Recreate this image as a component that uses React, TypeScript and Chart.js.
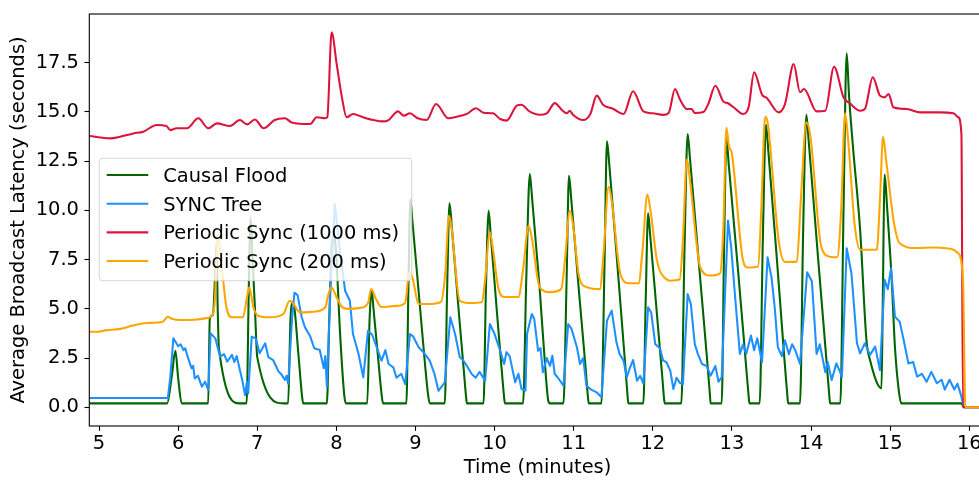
import React, { useEffect, useRef } from "react";
import { Chart, registerables } from "chart.js";
Chart.register(...registerables);

const seriesNames = ["Causal Flood", "SYNC Tree", "Periodic Sync (1000 ms)", "Periodic Sync (200 ms)"];
const seriesColors = ["#006400", "#1E90FF", "#DC143C", "#FFA500"];
const xTickValues = [5, 6, 7, 8, 9, 10, 11, 12, 13, 14, 15, 16];
const yTickValues = [0, 2.5, 5, 7.5, 10, 12.5, 15, 17.5];
const xLabel = "Time (minutes)";
const yLabel = "Average Broadcast Latency (seconds)";

const causalFlood: [number, number][] = [
  [4.877,0.2],[5.86,0.2],[5.92,1.6],[5.965,2.87],[6.0,1.5],[6.045,0.2],[6.38,0.2],[6.40,4.5],[6.44,4.7],[6.465,6.5],[6.485,8.3],[6.50,5.0],[6.515,3.0],[6.78,0.2],[6.865,0.2],[6.895,6.5],[6.915,9.65],[6.94,7.56],[6.97,5.06],[7.0,2.55],[7.33,0.2],[7.39,0.2],[7.42,4.5],[7.44,5.33],[7.46,5.25],[7.52,2.7],[7.565,0.6],[7.58,0.2],
  [7.88,0.2],[7.91,4.5],[7.955,8.8],[7.99,8.2],[8.05,3.5],[8.10,0.6],[8.12,0.2],[8.39,0.2],[8.42,4.5],[8.445,5.95],[8.47,4.96],[8.53,2.4],[8.57,0.7],[8.59,0.2],
  [8.885,0.2],[8.91,6.0],[8.935,10.58],[8.96,9.5],[9.05,5.4],[9.12,2.2],[9.16,0.6],[9.18,0.2],[9.37,0.2],[9.40,6.0],[9.43,10.36],[9.46,9.1],[9.55,4.7],[9.61,1.9],[9.64,0.5],[9.65,0.2],
  [9.86,0.2],[9.89,6.0],[9.925,9.98],[9.95,8.8],[10.04,4.3],[10.10,1.4],[10.12,0.5],[10.13,0.2],[10.36,0.2],[10.40,6.5],[10.445,11.85],[10.47,10.8],[10.57,6.0],[10.64,2.0],[10.68,0.3],[10.70,0.2],
  [10.87,0.2],[10.91,6.5],[10.94,11.76],[10.97,10.5],[11.07,5.7],[11.15,2.0],[11.18,0.5],[11.19,0.2],[11.35,0.2],[11.39,7.5],[11.42,13.51],[11.45,12.3],[11.56,6.8],[11.65,2.2],[11.68,0.6],[11.69,0.2],
  [11.88,0.2],[11.91,5.5],[11.94,9.85],[11.965,8.8],[12.05,4.8],[12.12,1.5],[12.14,0.5],[12.15,0.2],[12.36,0.2],[12.40,8.0],[12.44,13.88],[12.47,12.6],[12.58,7.4],[12.68,2.7],[12.72,0.7],[12.73,0.2],
  [12.87,0.2],[12.90,8.0],[12.93,13.63],[12.96,12.3],[13.08,6.8],[13.17,2.5],[13.21,0.6],[13.22,0.2],[13.35,0.2],[13.39,8.5],[13.43,14.35],[13.46,13.0],[13.57,7.4],[13.66,2.6],[13.70,0.6],[13.71,0.2],
  [13.86,0.2],[13.90,9.0],[13.94,14.86],[13.97,13.5],[14.09,7.5],[14.19,2.6],[14.23,0.6],[14.24,0.2],[14.37,0.2],[14.41,10.0],[14.45,17.98],[14.48,15.8],[14.53,13.2],[14.62,9.0],[14.70,3.4],[14.745,2.4],[14.89,0.96],
  [14.905,5.0],[14.93,11.82],[14.96,10.2],[15.02,6.4],[15.06,3.05],[15.11,0.8],[15.14,0.2],[15.90,0.2],[15.93,0.0],[16.21,0.0]
];

const syncTree: [number, number][] = [
  [4.877,0.47],[5.87,0.47],[5.90,1.5],[5.94,3.5],[5.97,3.3],[6.0,3.1],[6.03,3.2],[6.07,2.9],[6.09,3.0],[6.12,2.57],[6.17,1.98],[6.19,2.1],[6.21,1.47],[6.25,1.6],[6.30,1.05],[6.34,1.3],[6.38,0.88],[6.41,3.76],[6.47,3.5],[6.53,2.57],[6.58,2.7],[6.62,2.32],[6.68,2.66],[6.71,2.3],[6.74,2.6],[6.78,1.89],[6.81,1.39],[6.845,0.62],[6.87,1.3],[6.885,0.7],[6.93,3.59],[6.98,3.5],[7.03,2.74],[7.10,3.25],[7.14,2.55],[7.20,2.4],[7.27,1.81],[7.30,1.7],[7.35,1.39],[7.37,1.6],[7.39,1.2],[7.44,4.5],[7.47,5.82],[7.51,5.7],[7.56,4.6],[7.60,4.09],[7.67,3.59],[7.72,3.0],[7.79,2.91],[7.84,1.98],[7.86,2.6],[7.88,1.05],[7.93,6.5],[7.98,10.32],[8.05,7.79],[8.11,5.92],[8.17,5.41],[8.21,3.72],[8.28,2.71],[8.34,1.52],[8.40,3.89],[8.45,3.7],[8.51,3.05],[8.57,2.37],[8.62,2.9],[8.66,2.2],[8.72,2.03],[8.76,1.5],[8.82,1.7],[8.87,1.18],[8.93,3.72],[8.97,3.6],[9.04,3.05],[9.10,2.8],[9.18,2.37],[9.24,1.69],[9.29,0.84],[9.37,1.27],[9.44,4.57],[9.50,3.72],[9.56,2.54],[9.60,2.4],[9.65,2.1],[9.71,1.69],[9.76,1.5],[9.81,1.8],[9.88,1.35],[9.94,4.23],[10.0,3.72],[10.07,2.87],[10.12,2.2],[10.15,2.8],[10.19,2.6],[10.26,1.27],[10.30,1.7],[10.34,0.93],[10.39,0.85],[10.41,3.72],[10.47,4.74],[10.50,4.5],[10.55,2.87],[10.58,3.0],[10.61,1.78],[10.66,2.5],[10.70,2.1],[10.73,2.62],[10.76,1.69],[10.80,1.5],[10.87,1.1],[10.93,4.23],[10.97,4.0],[11.04,3.05],[11.08,2.2],[11.12,2.5],[11.16,1.1],[11.22,0.9],[11.29,0.76],[11.35,0.51],[11.42,4.4],[11.48,4.91],[11.54,3.3],[11.58,2.7],[11.63,2.37],[11.67,1.52],[11.71,2.0],[11.75,2.4],[11.80,1.35],[11.84,1.6],[11.88,1.2],[11.94,5.08],[11.98,4.8],[12.03,3.21],[12.09,3.0],[12.13,2.37],[12.17,2.3],[12.22,1.86],[12.26,0.93],[12.30,1.5],[12.34,1.25],[12.38,1.18],[12.44,5.75],[12.48,5.25],[12.53,3.21],[12.57,2.7],[12.62,2.2],[12.68,2.1],[12.73,1.6],[12.79,2.1],[12.83,1.3],[12.87,1.52],[12.95,9.48],[12.99,8.13],[13.04,5.59],[13.10,2.71],[13.14,3.2],[13.18,2.71],[13.24,3.64],[13.28,2.9],[13.32,3.5],[13.38,2.29],[13.45,7.62],[13.50,6.6],[13.54,5.08],[13.58,3.05],[13.63,2.6],[13.67,3.4],[13.72,2.7],[13.76,3.2],[13.80,2.9],[13.86,2.2],[13.95,6.86],[14.01,6.4],[14.07,2.71],[14.11,3.2],[14.18,1.78],[14.21,2.3],[14.26,1.39],[14.32,2.23],[14.39,1.56],[14.45,8.08],[14.51,6.81],[14.58,3.25],[14.62,2.74],[14.68,3.25],[14.745,2.66],[14.81,3.08],[14.87,1.89],[14.93,6.47],[14.97,6.0],[15.01,7.06],[15.06,4.6],[15.12,4.35],[15.17,3.42],[15.23,2.23],[15.29,2.3],[15.34,1.56],[15.40,1.7],[15.46,1.3],[15.52,1.8],[15.59,1.22],[15.65,1.4],[15.69,0.9],[15.75,1.4],[15.81,0.9],[15.85,1.2],[15.90,0.54],[15.93,0.0],[16.21,0.0]
];

const periodic1000: [number, number][] = [
  [4.877,13.78],[5.14,13.66],[5.265,13.74],[5.434,13.91],[5.56,14.0],[5.73,14.34],[5.855,14.28],[5.897,14.08],[5.98,14.17],[6.11,14.17],[6.255,14.68],[6.38,14.17],[6.49,14.42],[6.655,14.29],[6.78,14.59],[6.87,14.37],[6.97,14.62],[7.08,14.17],[7.22,14.59],[7.35,14.68],[7.435,14.47],[7.67,14.39],[7.75,14.73],[7.86,14.68],[7.885,14.73],[7.94,19.04],[8.004,17.43],[8.07,15.74],[8.13,14.73],[8.21,14.9],[8.34,14.73],[8.47,14.59],[8.59,14.52],[8.66,14.59],[8.78,15.03],[8.85,14.81],[8.93,14.93],[9.02,14.69],[9.14,14.59],[9.26,15.4],[9.415,14.68],[9.52,14.76],[9.65,14.9],[9.765,15.19],[9.86,14.96],[9.98,14.93],[10.07,14.64],[10.15,14.56],[10.28,15.32],[10.34,15.37],[10.43,15.06],[10.57,14.86],[10.66,14.93],[10.76,15.45],[10.85,15.1],[10.91,14.93],[10.95,15.06],[10.99,14.86],[11.12,14.59],[11.21,14.9],[11.29,15.83],[11.37,15.37],[11.50,15.15],[11.63,14.9],[11.75,16.05],[11.88,15.03],[12.0,14.93],[12.13,14.85],[12.20,14.95],[12.28,16.17],[12.34,15.66],[12.43,15.15],[12.49,15.15],[12.53,14.95],[12.64,15.0],[12.70,15.4],[12.79,16.33],[12.89,15.54],[12.95,15.44],[13.02,15.24],[13.14,14.9],[13.21,15.24],[13.28,17.01],[13.38,15.88],[13.44,15.71],[13.59,14.98],[13.67,15.4],[13.78,17.43],[13.86,16.0],[13.91,16.17],[14.07,15.03],[14.18,15.06],[14.29,17.3],[14.41,15.74],[14.49,15.44],[14.62,15.06],[14.68,15.15],[14.78,16.76],[14.87,15.83],[14.93,15.74],[14.98,15.91],[15.04,15.24],[15.21,15.15],[15.38,14.98],[15.63,14.98],[15.80,14.93],[15.86,14.73],[15.90,13.88],[15.92,0.0],[16.21,0.0]
];

const periodic200: [number, number][] = [
  [4.877,3.84],[5.0,3.84],[5.1,3.92],[5.25,3.97],[5.43,4.15],[5.6,4.28],[5.8,4.33],[5.87,4.6],[5.92,4.5],[6.02,4.43],[6.2,4.45],[6.36,4.53],[6.44,4.74],[6.465,5.5],[6.50,8.8],[6.53,8.0],[6.57,6.43],[6.61,5.08],[6.68,4.57],[6.82,4.57],[6.87,5.59],[6.90,6.09],[6.95,5.08],[7.01,4.65],[7.16,4.57],[7.33,4.74],[7.41,5.41],[7.45,5.3],[7.54,4.82],[7.70,4.85],[7.86,5.08],[7.90,5.75],[7.935,6.1],[8.0,5.62],[8.07,5.1],[8.15,5.0],[8.30,5.05],[8.40,5.3],[8.44,6.0],[8.50,5.5],[8.57,5.09],[8.75,5.15],[8.87,5.3],[8.92,6.85],[8.96,6.6],[9.04,5.25],[9.20,5.25],[9.32,5.35],[9.38,7.0],[9.42,9.73],[9.45,9.3],[9.56,5.41],[9.70,5.3],[9.84,5.35],[9.88,6.5],[9.94,8.89],[9.98,8.0],[10.05,6.0],[10.13,5.6],[10.30,5.6],[10.36,7.0],[10.43,9.22],[10.47,8.6],[10.57,6.09],[10.70,5.85],[10.84,6.0],[10.89,7.5],[10.95,9.98],[10.99,9.3],[11.06,6.8],[11.12,6.18],[11.33,6.0],[11.38,8.0],[11.44,11.2],[11.48,10.5],[11.59,6.77],[11.70,6.3],[11.82,6.3],[11.87,8.0],[11.93,10.8],[11.97,10.0],[12.05,7.5],[12.17,6.5],[12.22,6.43],[12.34,6.5],[12.38,8.5],[12.43,12.6],[12.47,11.5],[12.60,7.1],[12.73,6.69],[12.85,6.8],[12.89,9.0],[12.93,14.2],[12.96,13.3],[13.00,12.86],[13.14,7.45],[13.20,7.1],[13.33,7.15],[13.37,10.0],[13.42,14.76],[13.45,14.5],[13.59,8.46],[13.67,7.38],[13.82,7.4],[13.87,10.5],[13.94,14.47],[13.99,13.8],[14.13,8.13],[14.24,7.65],[14.33,7.62],[14.38,10.0],[14.43,14.93],[14.47,13.5],[14.55,9.3],[14.62,8.0],[14.83,8.0],[14.87,10.5],[14.91,13.74],[14.95,12.5],[15.05,9.3],[15.12,8.33],[15.33,8.09],[15.55,8.12],[15.76,8.05],[15.86,7.82],[15.92,6.47],[15.95,0.0],[16.21,0.0]
];

const seriesData = [causalFlood, syncTree, periodic1000, periodic200];
const smoothSeries = [true, false, true, true];

const FONT = "'DejaVu Sans', 'Liberation Sans', sans-serif";
const FS = 19.44;

const framePlugin = {
  id: "frameAndLegend",
  afterDatasetsDraw(chart: any) {
    const { ctx, chartArea: a } = chart;
    ctx.save();
    ctx.strokeStyle = "#000";
    ctx.lineWidth = 1.1;
    ctx.strokeRect(a.left, a.top, a.right - a.left, a.bottom - a.top);

    const lx = a.left + 10, ly = a.top + 144.3, lw = 312.4, lh = 122.4, r = 3.9;
    ctx.beginPath();
    ctx.moveTo(lx + r, ly);
    ctx.lineTo(lx + lw - r, ly);
    ctx.arcTo(lx + lw, ly, lx + lw, ly + r, r);
    ctx.lineTo(lx + lw, ly + lh - r);
    ctx.arcTo(lx + lw, ly + lh, lx + lw - r, ly + lh, r);
    ctx.lineTo(lx + r, ly + lh);
    ctx.arcTo(lx, ly + lh, lx, ly + lh - r, r);
    ctx.lineTo(lx, ly + r);
    ctx.arcTo(lx, ly, lx + r, ly, r);
    ctx.closePath();
    ctx.fillStyle = "rgba(255,255,255,0.8)";
    ctx.fill();
    ctx.strokeStyle = "rgba(204,204,204,0.8)";
    ctx.lineWidth = 1.1;
    ctx.stroke();

    ctx.font = `${FS}px ${FONT}`;
    ctx.textBaseline = "alphabetic";
    ctx.textAlign = "left";
    seriesNames.forEach((name, i) => {
      const y = ly + 16.7 + i * 28.67;
      ctx.strokeStyle = seriesColors[i];
      ctx.lineWidth = 2.08;
      ctx.beginPath();
      ctx.moveTo(lx + 7.4, y);
      ctx.lineTo(lx + 49, y);
      ctx.stroke();
      ctx.fillStyle = "#000";
      ctx.fillText(name, lx + 64, y + 7.1);
    });
    ctx.restore();
  },
};

export default function App() {
  const ref = useRef<HTMLCanvasElement | null>(null);
  useEffect(() => {
    if (!ref.current) return;
    const orders = [4, 3, 2, 1];
    const chart = new Chart(ref.current, {
      type: "line",
      data: {
        datasets: seriesData.map((pts, i) => ({
          label: seriesNames[i],
          data: pts.map(([x, y]) => ({ x, y })),
          borderColor: seriesColors[i],
          backgroundColor: seriesColors[i],
          borderWidth: 2.08,
          borderJoinStyle: "round" as const,
          pointRadius: 0,
          pointHoverRadius: 0,
          fill: false,
          tension: 0,
          cubicInterpolationMode: smoothSeries[i] ? ("monotone" as const) : ("default" as const),
          order: orders[i],
        })),
      },
      options: {
        responsive: false,
        animation: false,
        events: [],
        layout: { padding: { left: 0, top: 14, right: 14.3, bottom: 0 } },
        plugins: { legend: { display: false }, tooltip: { enabled: false } },
        scales: {
          x: {
            type: "linear",
            min: 4.877,
            max: 16.207,
            afterBuildTicks: (s: any) => {
              s.ticks = xTickValues.map((v) => ({ value: v }));
            },
            afterFit: (s: any) => {
              s.height = 54;
              s.paddingLeft = 0;
              s.paddingRight = 0;
            },
            grid: { display: true, drawOnChartArea: false, drawTicks: true, tickLength: 4.86, tickWidth: 1.1, tickColor: "#000" },
            border: { display: false },
            ticks: {
              color: "#000",
              padding: 1.5,
              autoSkip: false,
              maxRotation: 0,
              font: { family: FONT, size: FS },
              callback: (v: any) => String(v),
            },
            title: { display: true, text: xLabel, color: "#000", font: { family: FONT, size: FS }, padding: { top: 0, bottom: 0 } },
          },
          y: {
            type: "linear",
            min: -0.95,
            max: 19.975,
            afterBuildTicks: (s: any) => {
              s.ticks = yTickValues.map((v) => ({ value: v }));
            },
            afterFit: (s: any) => {
              s.width = 89.3;
              s.paddingTop = 0;
              s.paddingBottom = 0;
            },
            grid: { display: true, drawOnChartArea: false, drawTicks: true, tickLength: 4.86, tickWidth: 1.1, tickColor: "#000" },
            border: { display: false },
            ticks: {
              color: "#000",
              padding: 5.5,
              autoSkip: false,
              font: { family: FONT, size: FS },
              callback: (v: any) => Number(v).toFixed(1),
            },
            title: { display: true, text: yLabel, color: "#000", font: { family: FONT, size: FS }, padding: { top: 7.3, bottom: 0 } },
          },
        },
      },
      plugins: [framePlugin],
    } as any);
    return () => chart.destroy();
  }, []);

  return (
    <div style={{ position: "fixed", left: 0, top: 0, width: 979, height: 480, overflow: "hidden", background: "#fff" }}>
      <canvas ref={ref} width={1000} height={480} style={{ display: "block", width: 1000, height: 480 }} />
    </div>
  );
}
